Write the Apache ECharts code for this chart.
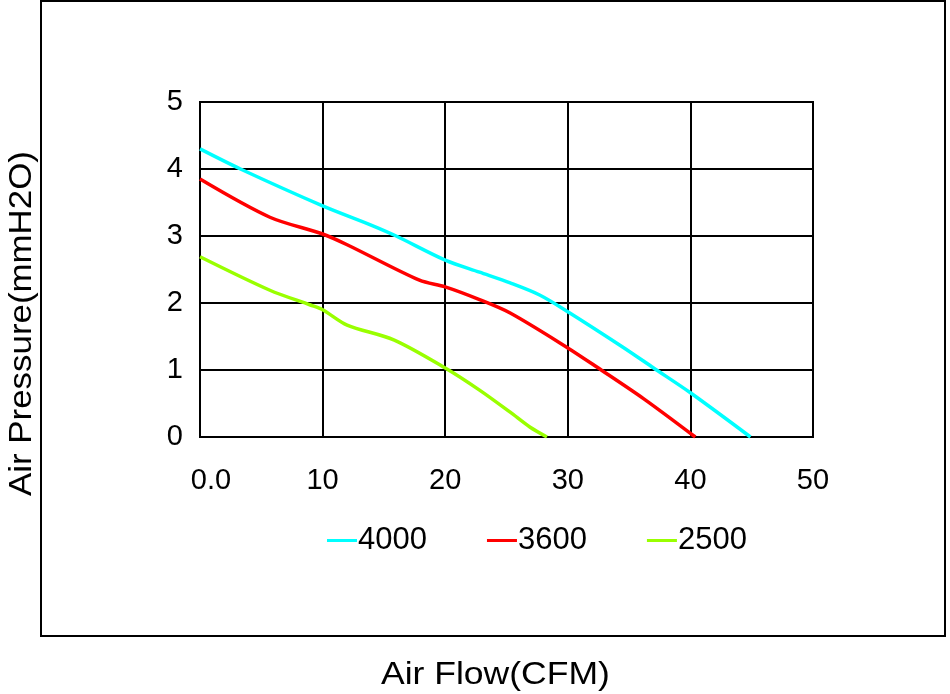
<!DOCTYPE html>
<html>
<head>
<meta charset="utf-8">
<script src="https://cdn.jsdelivr.net/npm/echarts@6/dist/echarts.min.js"></script>
<style>
html,body{margin:0;padding:0;background:#fff;}
#chart{width:950px;height:694px;}
</style>
</head>
<body>
<div id="chart"></div>
<script>
// 风量-风压曲线数据 (CFM, mmH2O)
var seriesNames = ['4000', '3600', '2500'];
var flow4000 = [0, 3.3, 10, 14, 16, 20, 22.8, 25.3, 27.7, 30, 34.5, 37, 40, 44.9];
var press4000 = [4.3, 4.0, 3.45, 3.16, 3.0, 2.64, 2.46, 2.3, 2.12, 1.87, 1.34, 1.03, 0.66, 0];
var flow3600 = [0, 5.7, 10, 12, 17.9, 20, 22.8, 25.3, 30, 32.4, 36.2, 40.4];
var press3600 = [3.85, 3.28, 3.03, 2.87, 2.34, 2.24, 2.05, 1.85, 1.33, 1.04, 0.57, 0];
var flow2500 = [0, 5.7, 9, 10, 12, 15.8, 20, 22.8, 25.3, 26.9, 28.3];
var press2500 = [2.69, 2.19, 1.97, 1.9, 1.67, 1.45, 1.03, 0.7, 0.37, 0.15, 0];
var xTicks = [0, 10, 20, 30, 40, 50];
var yTicks = [0, 1, 2, 3, 4, 5];

function pairs(xs, ys){
	var out = [];
	for (var i = 0; i < xs.length; i++) out.push([xs[i], ys[i]]);
	return out;
}

var font = 'Liberation Sans, Arial, sans-serif';
var colors = ['#00ffff', '#ff0000', '#99ff00'];
var datas = [pairs(flow4000, press4000), pairs(flow3600, press3600), pairs(flow2500, press2500)];

var myChart = echarts.init(document.getElementById('chart'));
myChart.setOption({
	animation: false,
	backgroundColor: '#fff',
	graphic: [
		{
			type: 'rect',
			shape: {x: 41, y: 1, width: 904, height: 635},
			style: {fill: 'none', stroke: '#000', lineWidth: 2},
			z: -1
		},
		{
			type: 'text',
			x: 381, y: 659,
			scaleX: 1.11,
			style: {text: 'Air Flow(CFM)', fontSize: 32, fontFamily: font, fill: '#000'}
		},
		{
			type: 'text',
			x: 6, y: 496,
			rotation: Math.PI / 2,
			scaleX: 1.09,
			style: {text: 'Air Pressure(mmH2O)', fontSize: 32, fontFamily: font, fill: '#000'}
		}
	],
	legend: {
		top: 520,
		left: 322,
		itemWidth: 30,
		itemHeight: 3,
		itemGap: 60,
		icon: 'rect',
		textStyle: {fontSize: 31, fontFamily: font, color: '#000', padding: [0, 0, 0, -4]},
		data: seriesNames
	},
	grid: {
		left: 200,
		top: 102,
		width: 613,
		height: 335,
		show: true,
		borderColor: '#000',
		borderWidth: 2
	},
	xAxis: {
		type: 'value',
		min: xTicks[0],
		max: xTicks[xTicks.length - 1],
		interval: 10,
		axisLine: {show: false},
		axisTick: {show: false},
		axisLabel: {
			margin: 29,
			fontSize: 29,
			fontFamily: font,
			color: '#000',
			formatter: function(v){ return v === 0 ? '{a|0.0}' : v; },
			rich: {a: {fontSize: 29, fontFamily: font, color: '#000', padding: [0, 0, 0, 22]}}
		},
		splitLine: {lineStyle: {color: '#000', width: 2}}
	},
	yAxis: {
		type: 'value',
		min: yTicks[0],
		max: yTicks[yTicks.length - 1],
		interval: 1,
		axisLine: {show: false},
		axisTick: {show: false},
		axisLabel: {margin: 17, fontSize: 29, fontFamily: font, color: '#000'},
		splitLine: {lineStyle: {color: '#000', width: 2}}
	},
	series: seriesNames.map(function(n, i){
		return {
			name: n,
			type: 'line',
			data: datas[i],
			smooth: 0.3,
			showSymbol: false,
			color: colors[i],
			lineStyle: {width: 3.5, color: colors[i]}
		};
	})
});
</script>
</body>
</html>
